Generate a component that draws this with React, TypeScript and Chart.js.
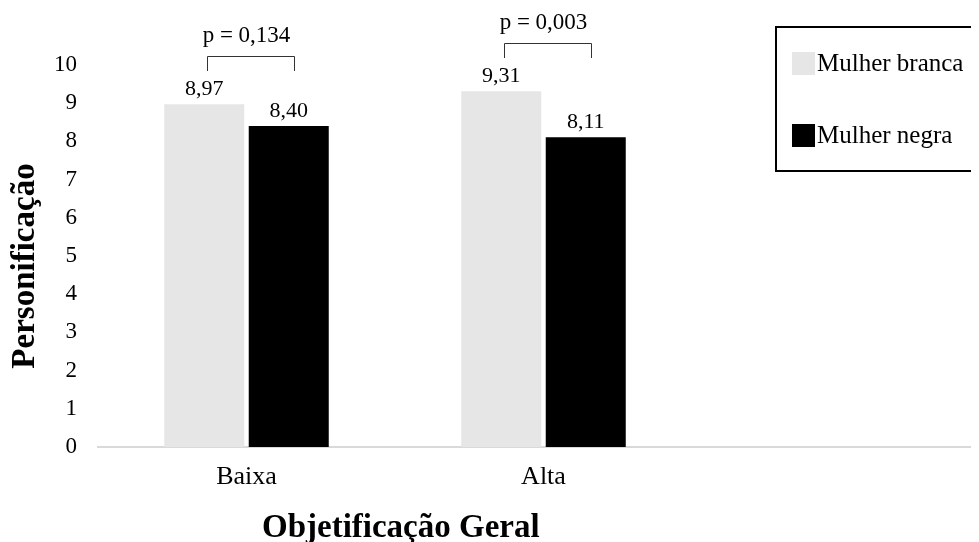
import React, { useEffect, useRef } from 'react';
import { Chart, registerables } from 'chart.js';

Chart.register(...registerables);

const categories = ['Baixa', 'Alta', ''];
const seriesNames = ['Mulher branca', 'Mulher negra'];
const seriesColors = ['#e6e6e6', '#000000'];
const brancaValues = [8.97, 9.31, null];
const negraValues = [8.4, 8.11, null];
const pValueLabels = ['p = 0,134', 'p = 0,003'];
const yAxisTitle = 'Personificação';
const xAxisTitle = 'Objetificação Geral';
const yMin = 0;
const yMax = 10;
const yStep = 1;

const FONT = '"Liberation Serif", "Times New Roman", serif';

const annotationPlugin = {
  id: 'annotationPlugin',
  afterDraw(chart: any) {
    const ctx: CanvasRenderingContext2D = chart.ctx;
    ctx.save();
    ctx.fillStyle = '#000';

    // value labels
    chart.data.datasets.forEach((ds: any, di: number) => {
      const meta = chart.getDatasetMeta(di);
      meta.data.forEach((bar: any, i: number) => {
        const v = ds.data[i];
        if (v == null) return;
        ctx.font = `22px ${FONT}`;
        ctx.textAlign = 'center';
        ctx.textBaseline = 'alphabetic';
        ctx.fillText(v.toFixed(2).replace('.', ','), bar.x, bar.y - 9);
      });
    });

    // significance brackets
    const m0 = chart.getDatasetMeta(0);
    const m1 = chart.getDatasetMeta(1);
    pValueLabels.forEach((label, i) => {
      const a = m0.data[i];
      const b = m1.data[i];
      if (!a || !b) return;
      const top = Math.min(a.y, b.y);
      const legEnd = Math.round(top - 33);
      const barY = Math.round(legEnd - 15.5) + 0.5;
      const x1 = Math.round(a.x + 3) + 0.5;
      const x2 = Math.round(b.x + 5) + 0.5;
      ctx.strokeStyle = '#333';
      ctx.lineWidth = 1;
      ctx.beginPath();
      ctx.moveTo(x1, legEnd);
      ctx.lineTo(x1, barY);
      ctx.lineTo(x2, barY);
      ctx.lineTo(x2, legEnd);
      ctx.stroke();
      const cx = chart.scales.x.getPixelForValue(i);
      ctx.font = `23px ${FONT}`;
      ctx.textAlign = 'center';
      ctx.textBaseline = 'alphabetic';
      ctx.fillText(label, cx, barY - 14.5);
    });

    // legend box
    ctx.strokeStyle = '#000';
    ctx.lineWidth = 2;
    ctx.strokeRect(768, 19, 220, 144);
    chart.data.datasets.forEach((ds: any, di: number) => {
      const y0 = 44 + di * 72;
      ctx.fillStyle = ds.backgroundColor;
      ctx.fillRect(784, y0, 23, 23);
      ctx.fillStyle = '#000';
      ctx.font = `25px ${FONT}`;
      ctx.textAlign = 'left';
      ctx.textBaseline = 'alphabetic';
      ctx.fillText(ds.label, 809, y0 + 19);
    });

    // axis titles
    ctx.font = `bold 33px ${FONT}`;
    ctx.fillStyle = '#000';
    ctx.textBaseline = 'alphabetic';
    ctx.save();
    ctx.translate(25.5, 258);
    ctx.rotate(-Math.PI / 2);
    ctx.textAlign = 'center';
    ctx.fillText(yAxisTitle, 0, 0);
    ctx.restore();
    ctx.textAlign = 'left';
    ctx.fillText(xAxisTitle, 254, 529);

    ctx.restore();
  },
};

export default function App() {
  const canvasRef = useRef<HTMLCanvasElement | null>(null);

  useEffect(() => {
    if (!canvasRef.current) return;
    const chart = new Chart(canvasRef.current, {
      type: 'bar',
      data: {
        labels: categories,
        datasets: [
          {
            label: seriesNames[0],
            data: brancaValues,
            backgroundColor: seriesColors[0],
            borderWidth: 0,
            categoryPercentage: 0.569,
            barPercentage: 0.947,
          },
          {
            label: seriesNames[1],
            data: negraValues,
            backgroundColor: seriesColors[1],
            borderWidth: 0,
            categoryPercentage: 0.569,
            barPercentage: 0.947,
          },
        ],
      } as any,
      options: {
        responsive: false,
        animation: false,
        layout: { padding: { top: 57, right: 2, left: 0, bottom: 0 } },
        plugins: {
          legend: { display: false },
          tooltip: { enabled: false },
          title: { display: false },
        },
        scales: {
          x: {
            z: 1,
            grid: { display: false, drawTicks: false },
            border: { display: true, color: '#d9d9d9', width: 2 },
            ticks: {
              color: '#000',
              font: { family: FONT, size: 26 },
              padding: 15,
              maxRotation: 0,
              autoSkip: false,
            },
            afterFit: (s: any) => {
              s.height = 95;
            },
          },
          y: {
            min: yMin,
            max: yMax,
            grid: { display: false, drawTicks: false },
            border: { display: false },
            ticks: {
              stepSize: yStep,
              color: '#000',
              font: { family: FONT, size: 23 },
              padding: 21,
            },
            afterFit: (s: any) => {
              s.width = 90;
            },
          },
        },
      } as any,
      plugins: [annotationPlugin],
    });
    return () => chart.destroy();
  }, []);

  return (
    <div style={{ width: 971, height: 534, overflow: 'hidden', position: 'relative' }}>
      <canvas
        ref={canvasRef}
        width={983}
        height={534}
        style={{ display: 'block', width: 983, height: 534 }}
      />
    </div>
  );
}
